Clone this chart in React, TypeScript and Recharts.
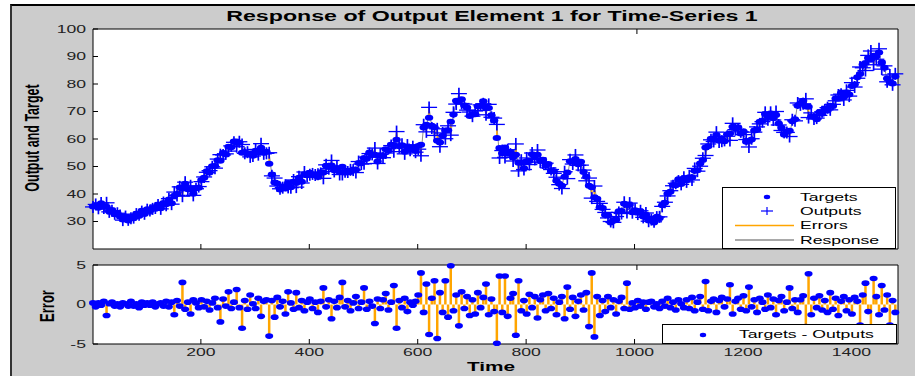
import {
  ComposedChart,
  Line,
  XAxis,
  YAxis,
  CartesianGrid,
  ErrorBar,
  Legend,
} from "recharts";

// the reference picture is stretched sideways, so text is drawn wide too
const SX = 1.6;
const FONT = "'Liberation Sans', Arial, sans-serif";
const BLUE = "#0000ff";
const ORANGE = "#ffa500";
const GRAY = "#8c8c8c";
const BG = "#cccccc";

const START = 1;
const STEP = 5;
const X_DOMAIN = [1, 1486];
const X_TICKS = [200, 400, 600, 800, 1000, 1200, 1400];
const Y_TICKS = [20, 30, 40, 50, 60, 70, 80, 90, 100];
const ERR_TICKS = [-5, 0, 5];

const TITLE = "Response of Output Element 1 for Time-Series 1";
const TOP_LEGEND = ["Targets", "Outputs", "Errors", "Response"];
const ERR_LEGEND = "Targets - Outputs";

// targets, one every STEP time steps
const TARGETS = [
  35.5, 35.9, 35.0, 36.6, 35.3, 35.4, 33.6, 34.2, 32.6, 33.1,
  31.9, 30.7, 31.9, 30.4, 31.6, 31.2, 32.8, 32.1, 33.9, 32.7,
  34.5, 33.9, 34.9, 34.6, 36.1, 34.8, 36.7, 36.3, 38.0, 36.6,
  39.4, 40.0, 42.4, 42.0, 43.7, 41.7, 41.8, 40.1, 42.1, 42.3,
  45.1, 45.9, 48.3, 47.8, 50.1, 50.2, 52.3, 52.1, 54.9, 54.4,
  57.2, 57.0, 59.1, 59.1, 58.6, 55.0, 55.3, 54.6, 54.7, 53.9,
  55.7, 55.1, 56.8, 55.0, 55.4, 51.0, 47.1, 44.2, 43.8, 41.6,
  42.7, 42.0, 44.0, 42.5, 44.5, 44.0, 45.9, 44.5, 47.2, 46.8,
  47.7, 46.8, 47.2, 46.2, 47.9, 47.8, 50.3, 49.8, 50.4, 48.6,
  49.5, 48.0, 49.9, 47.8, 48.5, 48.0, 48.9, 48.8, 51.3, 51.2,
  53.1, 52.8, 55.1, 54.2, 54.3, 51.8, 53.9, 53.8, 56.3, 55.8,
  57.9, 57.8, 59.7, 57.4, 57.7, 55.4, 56.9, 56.2, 57.1, 55.6,
  57.5, 57.9, 64.2, 65.2, 67.7, 64.8, 64.3, 59.4, 58.7, 61.2,
  63.1, 63.2, 66.3, 68.9, 73.9, 73.8, 74.5, 72.2, 71.5, 68.4,
  68.9, 69.0, 71.9, 72.0, 73.7, 71.4, 71.3, 68.6, 66.7, 60.4,
  56.7, 54.8, 56.9, 54.6, 55.3, 53.4, 54.3, 51.4, 51.5, 49.4,
  51.9, 52.0, 54.5, 53.6, 54.3, 52.2, 52.5, 50.4, 50.9, 48.4,
  48.3, 44.8, 43.7, 43.0, 46.3, 47.8, 51.9, 51.8, 52.7, 50.8,
  51.7, 48.0, 46.3, 43.0, 42.5, 38.8, 38.3, 35.2, 34.9, 32.4,
  32.3, 29.6, 30.3, 30.6, 33.7, 33.8, 36.5, 36.0, 36.1, 33.4,
  34.1, 33.2, 33.7, 31.8, 32.5, 30.4, 31.1, 29.6, 31.7, 31.2,
  35.9, 36.8, 40.1, 40.8, 43.3, 43.2, 45.3, 43.6, 45.7, 45.0,
  46.1, 46.0, 48.5, 48.6, 51.1, 52.4, 56.9, 57.4, 60.1, 59.8,
  61.5, 59.4, 60.1, 59.2, 61.7, 62.0, 64.5, 63.8, 64.3, 62.0,
  62.7, 59.0, 59.3, 59.8, 63.1, 63.4, 66.3, 66.6, 69.1, 68.2,
  69.3, 67.6, 68.7, 65.6, 64.1, 61.6, 62.7, 63.0, 66.5, 67.2,
  72.1, 73.0, 73.9, 71.8, 71.7, 68.2, 68.1, 67.2, 69.7, 69.2,
  71.1, 70.4, 72.1, 72.0, 74.7, 74.6, 76.7, 75.2, 76.9, 76.2,
  79.3, 79.8, 82.5, 83.6, 87.1, 87.6, 89.5, 88.8, 90.3, 90.0,
  91.5, 87.8, 85.9, 82.0, 80.7, 80.2, 82.7,
];

// targets - outputs at the same steps
const ERRORS = [
  0.2, -0.3, 0.2, -0.1, 0.4, -1.4, 0.1, 0.3, -0.2, 0.1,
  -0.3, 0.2, 0.1, -0.2, 0.4, -0.2, 0.1, -0.4, 0.3, -0.1,
  0.2, -0.1, 0.3, -0.3, 0.1, 0.2, -0.2, 0.4, -0.3, 0.3,
  -1.3, 0.5, -0.2, 2.8, -0.6, 0.3, -1.2, 0.6, 0.2, -0.4,
  0.6, -0.3, 0.4, -0.7, 0.2, 0.8, -0.4, -2.2, 0.7, -0.2,
  1.6, -0.5, 0.3, 1.9, -0.4, -3.0, 0.5, -0.6, 1.2, 0.1,
  -0.5, 0.8, -1.5, 0.4, 0.6, -4.0, 0.5, -1.6, 0.9, -0.3,
  0.4, -1.2, 1.6, 0.2, -0.6, 1.5, -0.4, 0.5, -0.8, 0.3,
  0.7, -0.5, 0.3, -1.0, 0.4, 2.1, -0.3, 0.6, -1.8, 0.4,
  -0.4, 0.9, 2.8, -0.3, 0.5, -0.8, 0.2, 1.0, -0.5, 0.3,
  2.1, -0.6, 0.4, -0.2, -2.4, 0.7, -0.5, 0.6, 1.4, -0.7,
  0.3, 2.4, -3.0, 0.5, -0.4, 0.8, -0.9, 0.3, -0.1, 0.4,
  1.2, 4.0, -1.0, 2.6, -3.8, 0.8, 3.0, -4.3, 1.5, -1.0,
  3.0, -1.6, 4.9, -0.8, 1.2, -2.7, 1.6, -0.5, 1.0, -1.4,
  0.6, -1.2, 1.5, -0.4, 0.9, 2.6, -1.3, 0.7, -0.9, -4.9,
  3.6, -1.0, 3.6, -1.5, 0.8, 1.4, -3.9, 3.0, -0.8, 0.5,
  -1.2, 1.3, -0.4, 1.0, -1.7, 0.6, 1.2, -0.8, 1.4, -0.5,
  0.8, -1.3, 0.3, 1.0, -1.8, 2.2, -0.6, 0.9, -1.5, 0.4,
  1.2, -0.7, 1.5, -2.8, 4.0, -4.1, 1.0, -1.4, 0.5, -0.9,
  1.0, -0.4, 0.6, -1.2, 0.4, 0.9, -0.5, 2.7, -0.6, 0.2,
  -0.4, 0.5, -0.2, 0.3, -0.6, 0.3, 0.4, -0.3, 0.1, -0.5,
  0.4, -0.2, 0.8, -0.4, 0.3, -0.7, 0.6, 0.1, -0.4, 0.6,
  -0.5, 0.9, -0.8, 0.3, 1.0, -0.6, 2.9, -0.8, 0.4, 0.7,
  -1.0, 0.5, 0.9, -0.3, 0.7, 2.5, -1.2, 0.4, 0.8, -0.6,
  1.1, -0.8, 2.2, -0.3, 0.6, -1.0, 0.8, 0.3, -0.6, 1.2,
  -0.4, 0.7, -1.3, 0.5, 1.0, -0.8, 0.3, 2.1, -0.5, 0.6,
  -1.0, 0.6, 1.1, -2.8, 3.9, -1.3, 0.8, -0.4, 1.1, -0.7,
  0.5, -1.0, 1.5, -0.6, 0.8, -1.4, 0.4, 1.0, -0.8, 0.6,
  -1.2, 0.9, 0.4, -2.6, 1.2, 2.7, -0.9, -3.2, 3.3, 1.0,
  -1.3, 2.4, -0.7, 1.2, -2.6, 0.5, -1.0,
];

const data = TARGETS.map((target, i) => {
  const err = ERRORS[i];
  // span between target and output (and between 0 and the error below)
  const bar = err > 0 ? [err, 0] : [0, -err];
  return {
    time: START + i * STEP,
    target,
    output: +(target - err).toFixed(2),
    err,
    bar,
  };
});

const TargetDot = (p: any) =>
  p.cx == null ? (
    <g key={`t${p.index}`} />
  ) : (
    <ellipse key={`t${p.index}`} cx={p.cx} cy={p.cy} rx={4.2} ry={3} fill={BLUE} />
  );

const OutputPlus = (p: any) =>
  p.cx == null ? (
    <g key={`o${p.index}`} />
  ) : (
    <g key={`o${p.index}`} stroke={BLUE}>
      <line x1={p.cx - 8} x2={p.cx + 8} y1={p.cy} y2={p.cy} strokeWidth={1.3} />
      <line x1={p.cx} x2={p.cx} y1={p.cy - 6} y2={p.cy + 6} strokeWidth={1.7} />
    </g>
  );

const ErrDot = (p: any) =>
  p.cx == null ? (
    <g key={`e${p.index}`} />
  ) : (
    <ellipse key={`e${p.index}`} cx={p.cx} cy={p.cy} rx={4} ry={2.8} fill={BLUE} />
  );

const LeftTick = (p: any) => (
  <text
    transform={`translate(${p.x},${p.y}) scale(${SX},1)`}
    textAnchor="end"
    dy="0.36em"
    fontSize={11}
    fontFamily={FONT}
    fill="#222"
  >
    {p.payload.value}
  </text>
);

const BottomTick = (p: any) => (
  <text
    transform={`translate(${p.x},${p.y}) scale(${SX},1)`}
    textAnchor="middle"
    dy="0.71em"
    fontSize={11}
    fontFamily={FONT}
    fill="#222"
  >
    {p.payload.value}
  </text>
);

const NoTick = () => <g />;

function WideText({ x, y, children, size = 11, bold = false, anchor = "start" }: any) {
  return (
    <text
      transform={`translate(${x},${y}) scale(${SX},1)`}
      textAnchor={anchor}
      dy="0.36em"
      fontSize={size}
      fontWeight={bold ? "bold" : "normal"}
      fontFamily={FONT}
      fill="#000"
    >
      {children}
    </text>
  );
}

function TopLegend() {
  const rows = [10, 24, 38.5, 53];
  return (
    <svg width={174} height={62} style={{ display: "block" }}>
      <rect x={0.5} y={0.5} width={173} height={61} fill="#fff" stroke="#000" />
      <ellipse cx={45} cy={rows[0]} rx={3.2} ry={2.2} fill={BLUE} />
      <g stroke={BLUE} strokeWidth={1.2}>
        <line x1={39} x2={51} y1={rows[1]} y2={rows[1]} />
        <line x1={45} x2={45} y1={rows[1] - 4} y2={rows[1] + 4} />
      </g>
      <line x1={13} x2={72} y1={rows[2]} y2={rows[2]} stroke={ORANGE} strokeWidth={1.5} />
      <line x1={13} x2={72} y1={rows[3]} y2={rows[3]} stroke={GRAY} strokeWidth={1.5} />
      {TOP_LEGEND.map((name, i) => (
        <WideText key={name} x={78} y={rows[i]}>
          {name}
        </WideText>
      ))}
    </svg>
  );
}

function ErrLegend() {
  return (
    <svg width={235} height={20} style={{ display: "block" }}>
      <rect x={0.5} y={0.5} width={234} height={19} fill="#fff" stroke="#000" />
      <ellipse cx={41} cy={11} rx={3.2} ry={2.2} fill={BLUE} />
      <WideText x={77} y={10.5}>
        {ERR_LEGEND}
      </WideText>
    </svg>
  );
}

export default function App() {
  return (
    <div
      style={{
        position: "absolute",
        left: 0,
        top: 0,
        width: 915,
        height: 376,
        background: "#fff",
        overflow: "hidden",
      }}
    >
      <div
        style={{
          position: "absolute",
          left: 10,
          top: 4,
          width: 905,
          height: 372,
          background: BG,
          borderTop: "2px solid #000",
          borderLeft: "2px solid #333",
          boxSizing: "border-box",
        }}
      />

      {/* output and target panel */}
      <div style={{ position: "absolute", left: 0, top: 0 }}>
        <ComposedChart
          width={915}
          height={255}
          data={data}
          margin={{ top: 24, right: 12, bottom: 1, left: 53 }}
        >
          <CartesianGrid fill="#fff" stroke="none" horizontal={false} vertical={false} />
          <XAxis
            dataKey="time"
            type="number"
            domain={X_DOMAIN}
            ticks={X_TICKS}
            height={5}
            tickSize={-5}
            tick={NoTick}
            stroke="#000"
          />
          <XAxis
            xAxisId="top"
            orientation="top"
            type="number"
            domain={X_DOMAIN}
            ticks={X_TICKS}
            height={5}
            tickSize={-5}
            tick={NoTick}
            stroke="#000"
          />
          <YAxis
            type="number"
            domain={[20, 100]}
            ticks={Y_TICKS}
            width={40}
            tickSize={-5}
            tickMargin={12}
            tick={LeftTick}
            stroke="#000"
          />
          <YAxis
            yAxisId="right"
            orientation="right"
            type="number"
            domain={[20, 100]}
            ticks={Y_TICKS}
            width={5}
            tickSize={-5}
            tick={NoTick}
            stroke="#000"
          />
          <Line
            dataKey="output"
            stroke={GRAY}
            strokeWidth={1}
            dot={false}
            isAnimationActive={false}
          />
          <Line
            dataKey="target"
            stroke="none"
            dot={TargetDot}
            isAnimationActive={false}
          >
            <ErrorBar dataKey="bar" direction="y" width={0} stroke={ORANGE} strokeWidth={1.5} />
          </Line>
          <Line
            dataKey="output"
            stroke="none"
            dot={OutputPlus}
            isAnimationActive={false}
          />
          <Legend
            layout="vertical"
            align="center"
            verticalAlign="middle"
            wrapperStyle={{ left: 722, top: 187, width: 174, height: 62 }}
            content={() => <TopLegend />}
          />
        </ComposedChart>
      </div>

      {/* error panel */}
      <div style={{ position: "absolute", left: 0, top: 255 }}>
        <ComposedChart
          width={915}
          height={121}
          data={data}
          margin={{ top: 5, right: 12, bottom: 10, left: 53 }}
        >
          <CartesianGrid fill="#fff" stroke="none" horizontal={false} vertical={false} />
          <XAxis
            dataKey="time"
            type="number"
            domain={X_DOMAIN}
            ticks={X_TICKS}
            height={22}
            tickSize={-5}
            tickMargin={9}
            tick={BottomTick}
            stroke="#000"
          />
          <XAxis
            xAxisId="top"
            orientation="top"
            type="number"
            domain={X_DOMAIN}
            ticks={X_TICKS}
            height={5}
            tickSize={-5}
            tick={NoTick}
            stroke="#000"
          />
          <YAxis
            type="number"
            domain={[-5, 5]}
            ticks={ERR_TICKS}
            width={40}
            tickSize={-5}
            tickMargin={12}
            tick={LeftTick}
            stroke="#000"
          />
          <YAxis
            yAxisId="right"
            orientation="right"
            type="number"
            domain={[-5, 5]}
            ticks={ERR_TICKS}
            width={5}
            tickSize={-5}
            tick={NoTick}
            stroke="#000"
          />
          <Line dataKey="err" stroke="none" dot={ErrDot} isAnimationActive={false}>
            <ErrorBar dataKey="bar" direction="y" width={0} stroke={ORANGE} strokeWidth={2.5} />
          </Line>
          <Legend
            layout="vertical"
            align="center"
            verticalAlign="middle"
            wrapperStyle={{ left: 662, top: 69, width: 235, height: 20 }}
            content={() => <ErrLegend />}
          />
        </ComposedChart>
      </div>

      {/* title and axis labels */}
      <svg
        width={915}
        height={376}
        style={{ position: "absolute", left: 0, top: 0, pointerEvents: "none" }}
      >
        <WideText x={492} y={16} size={14.5} bold anchor="middle">
          {TITLE}
        </WideText>
        <g transform={`translate(32,138) scale(${SX},1) rotate(-90)`}>
          <text
            textAnchor="middle"
            dy="0.36em"
            fontSize={12.5}
            fontWeight="bold"
            fontFamily={FONT}
          >
            Output and Target
          </text>
        </g>
        <g transform={`translate(47,306) scale(${SX},1) rotate(-90)`}>
          <text textAnchor="middle" dy="0.36em" fontSize={13} fontWeight="bold" fontFamily={FONT}>
            Error
          </text>
        </g>
        <WideText x={491} y={366} size={13} bold anchor="middle">
          Time
        </WideText>
      </svg>
    </div>
  );
}
